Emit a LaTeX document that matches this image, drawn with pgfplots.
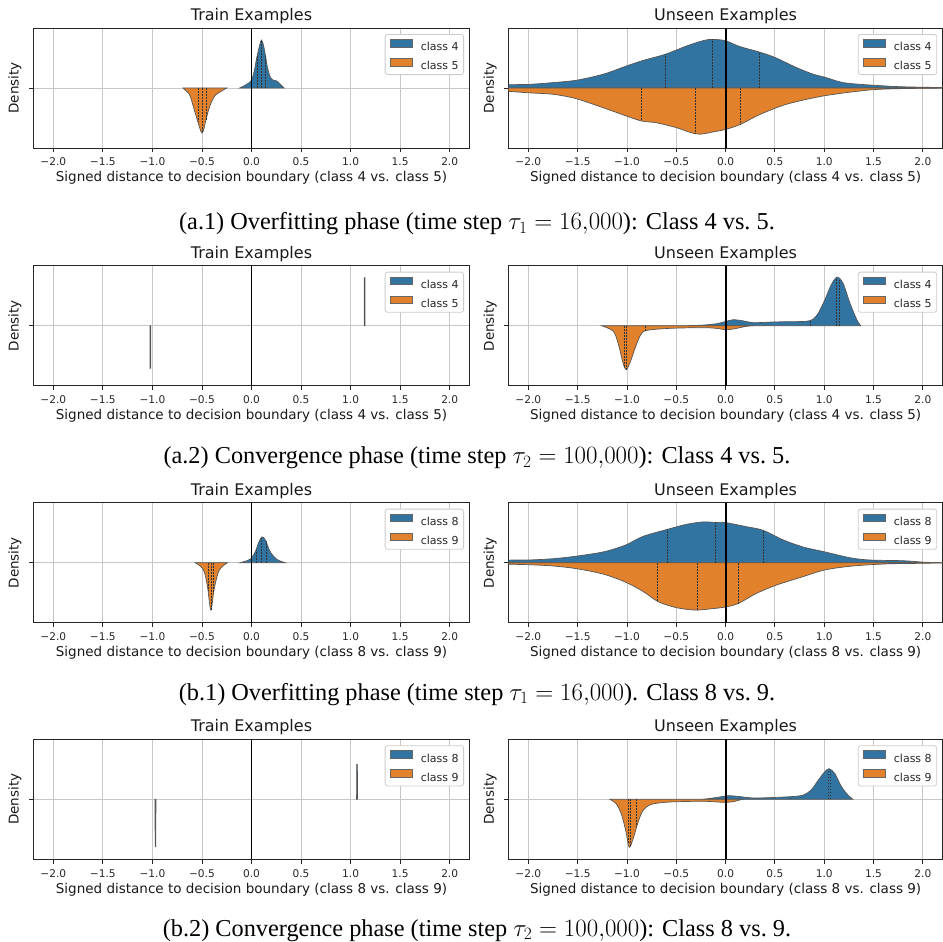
\documentclass[border=0pt]{standalone}
\usepackage[no-math]{fontspec}
\usepackage{pgfplots}
\pgfplotsset{compat=1.18}
\setmainfont{Liberation Serif}
\newfontfamily\djv{DejaVu Sans}
\newcommand\ticfont{\djv\fontsize{10.6}{12.8}\selectfont}
\newcommand\legfont{\djv\fontsize{11}{13}\selectfont}
\newcommand\labfont{\djv\fontsize{13.5}{16}\selectfont}
\newcommand\titfont{\djv\fontsize{16}{19}\selectfont}
\newcommand\capfont{\rmfamily\fontsize{24.3}{29}\selectfont}
\definecolor{cblue}{HTML}{3274A1}
\definecolor{corange}{HTML}{E1812C}
\definecolor{cedge}{HTML}{555555}
\pgfplotsset{
  every axis title shift=0pt,
  vio/.style={scale only axis, height=120pt, xmin=-2.2, xmax=2.2, ymin=-1, ymax=1,
    xtick={-2,-1.5,-1,-0.5,0,0.5,1,1.5,2},
    xticklabels={−2.0,−1.5,−1.0,−0.5,0.0,0.5,1.0,1.5,2.0},
    ytick={0}, yticklabels={},
    tick pos=left, tick align=outside, major tick length=4.5pt,
    xmajorgrids, ymajorgrids, major grid style={draw=black!22, line width=0.9pt},
    axis line style={draw=black!85, line width=0.9pt},
    major tick style={draw=black!85, line width=0.9pt},
    tick label style={font=\ticfont, text=black!85},
    xticklabel style={yshift=-2pt},
    xlabel style={font=\labfont, text=black!90, at={(axis description cs:0.5,0)}, anchor=base, yshift=-33.7pt},
    ylabel={Density},
    ylabel style={font=\labfont, text=black!90, at={(axis description cs:-0.0425,0.5)}, anchor=center},
    title style={font=\titfont, text=black!90, at={(axis description cs:0.5,1)}, anchor=base, yshift=7.5pt},
    legend style={at={(axis description cs:1,1)}, anchor=north east, xshift=-5.5pt, yshift=-6pt,
      draw=black!20, line width=0.8pt, rounded corners=2.5pt, font=\legfont, text=black!85,
      cells={anchor=west}, nodes={inner sep=0pt, text height=7.8pt, text depth=0.3pt},
      inner xsep=5pt, inner ysep=4.5pt, row sep=7pt, column sep=8pt},
    legend image code/.code={\draw[##1, sharp corners, draw=black!60, line width=0.7pt] (0pt,0pt) rectangle (22pt,7.7pt);},
  },
  vL/.style={at={(33.5pt,#1)}, anchor=north west, width=436pt},
  vR/.style={at={(508.6pt,#1)}, anchor=north west, width=434pt},
  bfill/.style={fill=cblue, draw=cedge, line width=0.7pt, smooth, tension=0.5},
  ofill/.style={fill=corange, draw=cedge, line width=0.7pt, smooth, tension=0.5},
  thinv/.style={draw=cedge, line width=0.8pt},
  qline/.style={draw=black!80, line width=0.55pt, dash pattern=on 1.8pt off 1.2pt, forget plot},
  zline/.style={black, line width=1.8pt, forget plot},
}
\begin{document}
\begin{tikzpicture}
\useasboundingbox (0pt,0pt) rectangle (943pt,-942pt);

% ---------------- Row a.1 ----------------
\begin{axis}[vio, vL=-28pt, title={Train Examples},
  xlabel={Signed distance to decision boundary (class 4 vs. class 5)}]
\addplot[bfill] coordinates {(-0.12,0)(-0.05,0.06)(0.0,0.13)(0.03,0.3)(0.05,0.48)(0.08,0.7)(0.1,0.8)(0.12,0.72)(0.14,0.55)(0.16,0.35)(0.19,0.18)(0.22,0.13)(0.25,0.12)(0.28,0.08)(0.33,0)} \closedcycle;
\addlegendentry{class 4}
\addplot[ofill] coordinates {(-0.69,0)(-0.68,-0.02)(-0.65,-0.06)(-0.62,-0.13)(-0.58,-0.35)(-0.54,-0.57)(-0.52,-0.68)(-0.5,-0.75)(-0.48,-0.68)(-0.46,-0.53)(-0.42,-0.3)(-0.37,-0.13)(-0.3,-0.05)(-0.26,-0.01)(-0.25,0)} \closedcycle;
\addlegendentry{class 5}
\addplot[qline] coordinates {(0.06,0)(0.06,0.55)};
\addplot[qline] coordinates {(0.10,0)(0.10,0.8)};
\addplot[qline] coordinates {(0.14,0)(0.14,0.55)};
\addplot[qline] coordinates {(-0.54,0)(-0.54,-0.57)};
\addplot[qline] coordinates {(-0.50,0)(-0.50,-0.75)};
\addplot[qline] coordinates {(-0.46,0)(-0.46,-0.53)};
\addplot[zline] coordinates {(0,-1)(0,1)};
\end{axis}

\begin{axis}[vio, vR=-28pt, title={Unseen Examples},
  xlabel={Signed distance to decision boundary (class 4 vs. class 5)}]
\addplot[bfill] coordinates {(-2.3,0)(-2.3,0.05)(-2.0,0.06)(-1.75,0.09)(-1.51,0.13)(-1.24,0.23)(-1.0,0.37)(-0.835,0.46)(-0.615,0.56)(-0.396,0.70)(-0.227,0.79)(-0.142,0.81)(-0.007,0.79)(0.145,0.69)(0.341,0.60)(0.499,0.51)(0.719,0.34)(0.888,0.23)(1.006,0.18)(1.192,0.09)(1.462,0.05)(1.8,0.02)(2.3,0.005)(2.3,0)} \closedcycle;
\addlegendentry{class 4}
\addplot[ofill] coordinates {(-2.3,0)(-2.3,-0.05)(-2.206,-0.055)(-2.0,-0.08)(-1.746,-0.105)(-1.51,-0.18)(-1.24,-0.33)(-1.0,-0.47)(-0.851,-0.55)(-0.7,-0.58)(-0.5,-0.66)(-0.36,-0.74)(-0.26,-0.77)(-0.12,-0.73)(0.0,-0.69)(0.145,-0.61)(0.35,-0.44)(0.62,-0.27)(1.0,-0.13)(1.46,-0.033)(1.8,-0.01)(2.3,0)} \closedcycle;
\addlegendentry{class 5}
\addplot[qline] coordinates {(-0.615,0)(-0.615,0.56)};
\addplot[qline] coordinates {(-0.136,0)(-0.136,0.81)};
\addplot[qline] coordinates {(0.341,0)(0.341,0.60)};
\addplot[qline] coordinates {(-0.851,0)(-0.851,-0.55)};
\addplot[qline] coordinates {(-0.304,0)(-0.304,-0.76)};
\addplot[qline] coordinates {(0.145,0)(0.145,-0.61)};
\addplot[zline] coordinates {(0,-1)(0,1)};
\end{axis}

% ---------------- Row a.2 ----------------
\begin{axis}[vio, vL=-265.7pt, title={Train Examples},
  xlabel={Signed distance to decision boundary (class 4 vs. class 5)}]
\addplot[fill=cblue, thinv] coordinates {(1.137,0)(1.138,0.8)(1.144,0.8)(1.145,0)} \closedcycle;
\addlegendentry{class 4}
\addplot[fill=corange, thinv] coordinates {(-1.024,0)(-1.023,-0.71)(-1.017,-0.71)(-1.016,0)} \closedcycle;
\addlegendentry{class 5}
\addplot[zline] coordinates {(0,-1)(0,1)};
\end{axis}

\begin{axis}[vio, vR=-265.7pt, title={Unseen Examples},
  xlabel={Signed distance to decision boundary (class 4 vs. class 5)}]
\addplot[bfill] coordinates {(-0.39,0)(-0.227,0.01)(-0.09,0.033)(0.0,0.07)(0.077,0.1)(0.18,0.08)(0.28,0.05)(0.45,0.06)(0.62,0.067)(0.79,0.07)(0.854,0.085)(0.89,0.11)(0.94,0.21)(1.006,0.43)(1.07,0.68)(1.13,0.81)(1.19,0.71)(1.26,0.38)(1.33,0.1)(1.37,0)} \closedcycle;
\addlegendentry{class 4}
\addplot[ofill] coordinates {(-1.257,0)(-1.14,-0.09)(-1.09,-0.29)(-1.04,-0.62)(-1.01,-0.73)(-0.97,-0.62)(-0.91,-0.34)(-0.86,-0.15)(-0.8,-0.078)(-0.565,-0.044)(-0.227,-0.033)(-0.09,-0.045)(0.01,-0.067)(0.11,-0.045)(0.21,-0.01)(0.28,0)} \closedcycle;
\addlegendentry{class 5}
\addplot[qline] coordinates {(0.854,0)(0.854,0.085)};
\addplot[qline] coordinates {(1.124,0)(1.124,0.8)};
\addplot[qline] coordinates {(1.15,0)(1.15,0.77)};
\addplot[qline] coordinates {(-1.03,0)(-1.03,-0.68)};
\addplot[qline] coordinates {(-1.01,0)(-1.01,-0.73)};
\addplot[qline] coordinates {(-0.81,0)(-0.81,-0.08)};
\addplot[zline] coordinates {(0,-1)(0,1)};
\end{axis}

% ---------------- Row b.1 ----------------
\begin{axis}[vio, vL=-502.7pt, title={Train Examples},
  xlabel={Signed distance to decision boundary (class 8 vs. class 9)}]
\addplot[bfill] coordinates {(-0.114,0)(-0.046,0.033)(-0.006,0.067)(0.038,0.18)(0.071,0.33)(0.105,0.43)(0.139,0.38)(0.19,0.18)(0.257,0.055)(0.34,0)} \closedcycle;
\addlegendentry{class 8}
\addplot[ofill] coordinates {(-0.568,0)(-0.518,-0.055)(-0.477,-0.15)(-0.444,-0.4)(-0.41,-0.79)(-0.376,-0.43)(-0.333,-0.15)(-0.289,-0.055)(-0.242,0)} \closedcycle;
\addlegendentry{class 9}
\addplot[qline] coordinates {(0.048,0)(0.048,0.22)};
\addplot[qline] coordinates {(0.095,0)(0.095,0.41)};
\addplot[qline] coordinates {(0.145,0)(0.145,0.36)};
\addplot[qline] coordinates {(-0.434,0)(-0.434,-0.47)};
\addplot[qline] coordinates {(-0.41,0)(-0.41,-0.79)};
\addplot[qline] coordinates {(-0.383,0)(-0.383,-0.5)};
\addplot[zline] coordinates {(0,-1)(0,1)};
\end{axis}

\begin{axis}[vio, vR=-502.7pt, title={Unseen Examples},
  xlabel={Signed distance to decision boundary (class 8 vs. class 9)}]
\addplot[bfill] coordinates {(-2.3,0)(-2.3,0.04)(-2.0,0.045)(-1.746,0.067)(-1.51,0.11)(-1.24,0.18)(-1.02,0.29)(-0.835,0.44)(-0.58,0.56)(-0.396,0.64)(-0.227,0.68)(-0.1,0.67)(-0.007,0.67)(0.212,0.6)(0.38,0.54)(0.584,0.38)(0.79,0.26)(1.006,0.18)(1.26,0.083)(1.46,0.045)(1.8,0.033)(2.0,0.01)(2.2,0)} \closedcycle;
\addlegendentry{class 8}
\addplot[ofill] coordinates {(-2.3,0)(-2.3,-0.02)(-2.0,-0.033)(-1.746,-0.055)(-1.51,-0.1)(-1.24,-0.19)(-1.02,-0.32)(-0.835,-0.48)(-0.683,-0.65)(-0.497,-0.75)(-0.31,-0.79)(-0.16,-0.77)(-0.007,-0.74)(0.128,-0.68)(0.314,-0.51)(0.52,-0.37)(0.79,-0.23)(1.006,-0.12)(1.29,-0.055)(1.63,-0.02)(2.0,-0.01)(2.3,0)} \closedcycle;
\addlegendentry{class 9}
\addplot[qline] coordinates {(-0.588,0)(-0.588,0.56)};
\addplot[qline] coordinates {(-0.102,0)(-0.102,0.67)};
\addplot[qline] coordinates {(0.381,0)(0.381,0.54)};
\addplot[qline] coordinates {(-0.69,0)(-0.69,-0.64)};
\addplot[qline] coordinates {(-0.284,0)(-0.284,-0.79)};
\addplot[qline] coordinates {(0.128,0)(0.128,-0.68)};
\addplot[zline] coordinates {(0,-1)(0,1)};
\end{axis}

% ---------------- Row b.2 ----------------
\begin{axis}[vio, vL=-739.3pt, title={Train Examples},
  xlabel={Signed distance to decision boundary (class 8 vs. class 9)}]
\addplot[fill=cblue, thinv] coordinates {(1.061,0)(1.062,0.58)(1.068,0.58)(1.069,0)} \closedcycle;
\addlegendentry{class 8}
\addplot[fill=corange, thinv] coordinates {(-0.973,0)(-0.972,-0.79)(-0.966,-0.79)(-0.965,0)} \closedcycle;
\addlegendentry{class 9}
\addplot[zline] coordinates {(0,-1)(0,1)};
\end{axis}

\begin{axis}[vio, vR=-739.3pt, title={Unseen Examples},
  xlabel={Signed distance to decision boundary (class 8 vs. class 9)}]
\addplot[bfill] coordinates {(-0.227,0)(-0.09,0.03)(0.027,0.06)(0.145,0.045)(0.28,0.022)(0.45,0.028)(0.668,0.045)(0.79,0.072)(0.87,0.16)(0.94,0.32)(1.006,0.46)(1.05,0.51)(1.107,0.43)(1.175,0.21)(1.24,0.072)(1.276,0.02)(1.29,0)} \closedcycle;
\addlegendentry{class 8}
\addplot[ofill] coordinates {(-1.172,0)(-1.105,-0.083)(-1.054,-0.26)(-1.01,-0.54)(-0.977,-0.8)(-0.936,-0.65)(-0.885,-0.37)(-0.835,-0.18)(-0.75,-0.083)(-0.565,-0.045)(-0.227,-0.033)(-0.024,-0.05)(0.077,-0.04)(0.145,-0.01)(0.18,0)} \closedcycle;
\addlegendentry{class 9}
\addplot[qline] coordinates {(0.66,0)(0.66,0.045)};
\addplot[qline] coordinates {(1.04,0)(1.04,0.5)};
\addplot[qline] coordinates {(1.063,0)(1.063,0.5)};
\addplot[qline] coordinates {(-0.985,0)(-0.985,-0.72)};
\addplot[qline] coordinates {(-0.963,0)(-0.963,-0.77)};
\addplot[qline] coordinates {(-0.902,0)(-0.902,-0.46)};
\addplot[zline] coordinates {(0,-1)(0,1)};
\end{axis}

% ---------------- Captions ----------------
\node[font=\capfont, anchor=base] at (477pt,-229.3pt) {(a.1) Overfitting phase (time step $\tau_1 = 16{,}000$): Class 4 vs.\ 5.};
\node[font=\capfont, anchor=base] at (477pt,-463.3pt) {(a.2) Convergence phase (time step $\tau_2 = 100{,}000$): Class 4 vs.\ 5.};
\node[font=\capfont, anchor=base] at (477pt,-700pt) {(b.1) Overfitting phase (time step $\tau_1 = 16{,}000$). Class 8 vs.\ 9.};
\node[font=\capfont, anchor=base] at (477pt,-936pt) {(b.2) Convergence phase (time step $\tau_2 = 100{,}000$): Class 8 vs.\ 9.};
\end{tikzpicture}
\end{document}
